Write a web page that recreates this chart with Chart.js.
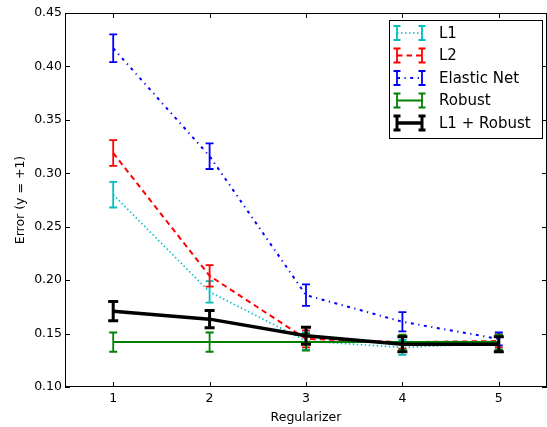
<!DOCTYPE html>
<html><head><meta charset="utf-8">
<script src="https://cdn.jsdelivr.net/npm/chart.js@4.4.1/dist/chart.umd.min.js"></script>
<style>html,body{margin:0;padding:0;background:#fff}#wrap{width:547px;height:427px}</style>
</head><body><div id="wrap"><canvas id="c" width="547" height="427"></canvas></div>
<script>
const regularizers = [1, 2, 3, 4, 5];
const yTicks = [0.10, 0.15, 0.20, 0.25, 0.30, 0.35, 0.40, 0.45];
const seriesNames = ["L1", "L2", "Elastic Net", "Robust", "L1 + Robust"];
const l1Values = [0.280, 0.189, 0.143, 0.137, 0.141];
const l1Errors = [0.012, 0.010, 0.008, 0.007, 0.006];
const l2Values = [0.319, 0.204, 0.145, 0.142, 0.143];
const l2Errors = [0.012, 0.010, 0.008, 0.006, 0.006];
const enValues = [0.417, 0.316, 0.186, 0.161, 0.145];
const enErrors = [0.013, 0.012, 0.010, 0.009, 0.006];
const robustValues = [0.142, 0.142, 0.142, 0.142, 0.142];
const robustErrors = [0.009, 0.009, 0.008, 0.007, 0.007];
const l1rValues = [0.171, 0.1635, 0.148, 0.140, 0.140];
const l1rErrors = [0.009, 0.008, 0.008, 0.007, 0.007];

const styles = [
  {color:'#00BFBF', width:1.6, dash:[1.5,2.5], cap:4, capW:1.8, order:5},
  {color:'#FF0000', width:2, dash:[5.5,4], cap:4, capW:1.8, order:4},
  {color:'#0000FF', width:2, dash:[3,4.5,1.2,4.5], cap:4, capW:1.8, order:3},
  {color:'#008000', width:2, dash:[], cap:4, capW:1.8, order:2},
  {color:'#000000', width:3.5, dash:[], cap:5, capW:3, order:1}
];
const allValues = [l1Values, l2Values, enValues, robustValues, l1rValues];
const allErrors = [l1Errors, l2Errors, enErrors, robustErrors, l1rErrors];

const datasets = seriesNames.map((name, i) => ({
  label: name,
  data: regularizers.map((x, j) => ({x: x, y: allValues[i][j]})),
  errors: allErrors[i],
  borderColor: styles[i].color,
  backgroundColor: styles[i].color,
  borderWidth: styles[i].width,
  borderDash: styles[i].dash,
  pointRadius: 0,
  fill: false,
  tension: 0,
  order: styles[i].order,
  capHalf: styles[i].cap,
  capWidth: styles[i].capW
}));

const FONT = 'DejaVu Sans';

const errorBars = {
  id: 'errorBars',
  afterDatasetDraw(chart, args) {
    const ds = chart.data.datasets[args.index];
    const xs = chart.scales.x, ys = chart.scales.y;
    const ctx = chart.ctx;
    ctx.save();
    ctx.strokeStyle = ds.borderColor;
    ctx.setLineDash([]);
    ds.data.forEach((p, j) => {
      const e = ds.errors[j];
      const px = xs.getPixelForValue(p.x);
      const y1 = ys.getPixelForValue(p.y - e), y2 = ys.getPixelForValue(p.y + e);
      ctx.lineWidth = ds.capWidth;
      ctx.beginPath(); ctx.moveTo(px, y1); ctx.lineTo(px, y2); ctx.stroke();
      ctx.beginPath();
      ctx.moveTo(px - ds.capHalf, y1); ctx.lineTo(px + ds.capHalf, y1);
      ctx.moveTo(px - ds.capHalf, y2); ctx.lineTo(px + ds.capHalf, y2);
      ctx.stroke();
    });
    ctx.restore();
  }
};

const frame = {
  id: 'frame',
  afterDraw(chart) {
    const {ctx, chartArea: a} = chart;
    const xs = chart.scales.x, ys = chart.scales.y;
    ctx.save();
    ctx.strokeStyle = '#000'; ctx.lineWidth = 1; ctx.setLineDash([]);
    ctx.strokeRect(a.left + 0.5, a.top + 0.5, a.right - a.left - 1, a.bottom - a.top - 1);
    ctx.beginPath();
    regularizers.forEach(v => {
      const px = Math.round(xs.getPixelForValue(v)) + 0.5;
      ctx.moveTo(px, a.bottom); ctx.lineTo(px, a.bottom - 5);
      ctx.moveTo(px, a.top); ctx.lineTo(px, a.top + 5);
    });
    yTicks.forEach(v => {
      const py = Math.round(ys.getPixelForValue(v)) + 0.5;
      ctx.moveTo(a.left, py); ctx.lineTo(a.left + 5, py);
      ctx.moveTo(a.right, py); ctx.lineTo(a.right - 5, py);
    });
    ctx.stroke();

    // legend
    const bx = 389.5, by = 20.5, bw = 153, bh = 118;
    ctx.fillStyle = '#fff';
    ctx.fillRect(bx, by, bw, bh);
    ctx.strokeStyle = '#000'; ctx.lineWidth = 1;
    ctx.strokeRect(bx, by, bw, bh);
    ctx.font = '15px ' + FONT;
    ctx.textBaseline = 'middle';
    chart.data.datasets.forEach((ds, i) => {
      const cy = 33 + i * 22.5;
      const x0 = 397, x1 = 422;
      ctx.strokeStyle = ds.borderColor;
      ctx.lineWidth = ds.borderWidth;
      ctx.setLineDash(ds.borderDash);
      ctx.beginPath(); ctx.moveTo(x0, cy); ctx.lineTo(x1, cy); ctx.stroke();
      ctx.setLineDash([]);
      ctx.lineWidth = ds.capWidth;
      [x0, x1].forEach(x => {
        ctx.beginPath();
        ctx.moveTo(x, cy - 7); ctx.lineTo(x, cy + 7);
        ctx.moveTo(x - 3.5, cy - 7); ctx.lineTo(x + 3.5, cy - 7);
        ctx.moveTo(x - 3.5, cy + 7); ctx.lineTo(x + 3.5, cy + 7);
        ctx.stroke();
      });
      ctx.fillStyle = '#000';
      ctx.fillText(ds.label, 439, cy + 1);
    });
    ctx.restore();
  }
};

new Chart(document.getElementById('c'), {
  type: 'line',
  data: { datasets: datasets },
  options: {
    responsive: false,
    animation: false,
    layout: { padding: { top: 13, right: 0, left: 0, bottom: 0 } },
    plugins: { legend: { display: false }, tooltip: { enabled: false } },
    scales: {
      x: {
        type: 'linear', min: 0.5, max: 5.5,
        afterBuildTicks: s => { s.ticks = regularizers.map(v => ({value: v})); },
        afterFit: s => { s.height = 40; },
        grid: { display: false, drawTicks: false },
        border: { display: false },
        ticks: { color: '#000', font: { family: FONT, size: 12.5 }, padding: 4, maxRotation: 0,
                 callback: v => String(v) },
        title: { display: true, text: 'Regularizer', color: '#000', font: { family: FONT, size: 12.5 }, padding: { top: 0, bottom: 2 } }
      },
      y: {
        min: 0.10, max: 0.45,
        afterBuildTicks: s => { s.ticks = yTicks.map(v => ({value: v})); },
        afterFit: s => { s.width = 65; },
        grid: { display: false, drawTicks: false },
        border: { display: false },
        ticks: { color: '#000', font: { family: FONT, size: 12.5 }, padding: 3,
                 callback: v => Number(v).toFixed(2) },
        title: { display: true, text: 'Error (y = +1)', color: '#000', font: { family: FONT, size: 12.5 }, padding: { top: 13, bottom: 0 } }
      }
    }
  },
  plugins: [errorBars, frame]
});
</script>
</body></html>
